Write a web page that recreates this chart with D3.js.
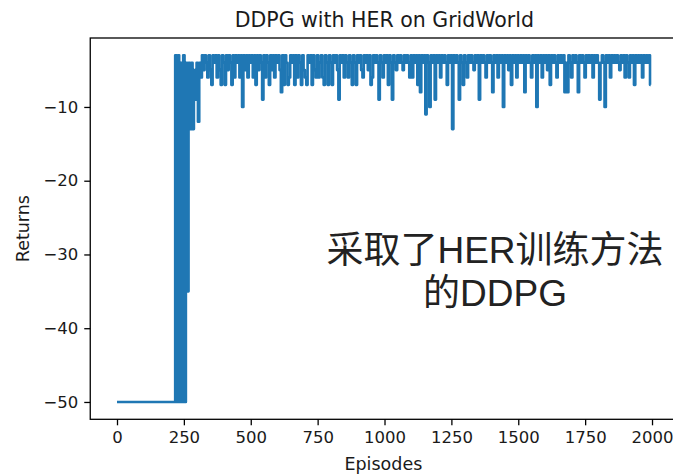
<!DOCTYPE html>
<html>
<head>
<meta charset="utf-8">
<script src="https://cdn.jsdelivr.net/npm/d3@7"></script>
<style>
  html, body { margin: 0; padding: 0; background: #fff; overflow: hidden; }
  svg { display: block; }
</style>
</head>
<body>
<svg id="chart" width="673" height="475"></svg>
<script>
// ---- data ----
const titleText = "DDPG with HER on GridWorld";
const xLabel = "Episodes";
const yLabel = "Returns";
const noteLines = ["采取了HER训练方法", "的DDPG"];
const xTicks = [0, 250, 500, 750, 1000, 1250, 1500, 1750, 2000];
const yTicks = [-50, -40, -30, -20, -10];
const episodeStep = 5; // one sample read every 5 episodes
const returns = [
  -50,-50,-50,-50,-50,-50,-50,-50,-50,-50,
  -50,-50,-50,-50,-50,-50,-50,-50,-50,-50,
  -50,-50,-50,-50,-50,-50,-50,-50,-50,-50,
  -50,-50,-50,-50,-50,-50,-50,-50,-50,-50,
  -50,-50,-50,-50,
  -3,-50,-3,-50,-4,-50,
  -3,-50,-4,-35,-4,-13,-4,-13,-5,-9,
  -4,-12,-4,-6,-3,-5,-3,-4,-6,-3,
  -5,-7,-3,-4,-3,-6,-3,-5,-7,-3,
  -4,-7,-3,-5,-3,-4,-7,-3,-6,-3,
  -4,-3,-6,-3,-10,-3,-5,-3,-6,-3,
  -4,-3,-6,-3,-7,-3,-5,-3,-4,-9,
  -3,-6,-3,-4,-7,-3,-5,-3,-6,-3,
  -4,-3,-5,-8,-3,-7,-3,-4,-7,-6,
  -3,-4,-3,-7,-3,-6,-3,-4,-7,-3,
  -5,-6,-7,-3,-4,-3,-7,-3,-5,-6,
  -3,-6,-4,-3,-6,-7,-3,-4,-7,-3,
  -4,-7,-3,-4,-3,-5,-9,-3,-4,-3,
  -6,-3,-4,-6,-3,-4,-7,-3,-4,-7,
  -3,-4,-3,-5,-6,-3,-4,-3,-5,-3,
  -7,-6,-3,-4,-3,-4,-9,-3,-4,-6,
  -3,-4,-3,-7,-3,-4,-9,-3,-4,-5,
  -3,-4,-3,-4,-5,-3,-4,-3,-4,-6,
  -3,-6,-3,-4,-3,-7,-3,-8,-3,-4,
  -3,-11,-3,-4,-10,-3,-4,-3,-9,-3,
  -4,-3,-6,-3,-4,-3,-4,-7,-3,-4,
  -3,-13,-3,-4,-3,-4,-9,-3,-4,-7,
  -3,-4,-6,-3,-4,-3,-4,-5,-3,-4,
  -3,-9,-3,-4,-3,-4,-6,-3,-4,-3,
  -4,-8,-3,-4,-3,-6,-3,-4,-3,-10,
  -3,-4,-3,-5,-3,-7,-3,-4,-3,-6,
  -3,-4,-3,-4,-3,-8,-3,-4,-3,-4,
  -6,-3,-4,-3,-10,-3,-4,-3,-6,-3,
  -4,-3,-5,-3,-7,-3,-4,-3,-4,-6,
  -3,-4,-3,-4,-3,-8,-4,-8,-3,-4,
  -6,-3,-4,-3,-4,-8,-3,-4,-3,-4,
  -6,-3,-4,-3,-4,-3,-6,-3,-4,-3,
  -4,-9,-4,-3,-4,-10,-3,-4,-3,-6,
  -3,-4,-3,-4,-3,-4,-5,-3,-4,-3,
  -6,-3,-4,-6,-3,-4,-3,-7,-3,-4,
  -3,-4,-3,-6,-3,-4,-3,-4,-3,-7
];

// ---- layout ----
const svg = d3.select("#chart");
const plot = { left: 90.25, right: 678.5, top: 38, bottom: 419.3 };
const x = d3.scaleLinear().domain([-100, 2099]).range([plot.left, plot.right]);
const y = d3.scaleLinear().domain([-52.35, -0.65]).range([plot.bottom, plot.top]);

const tickFont = "DejaVu Sans, sans-serif";
const fmt = v => String(v).replace("-", "\u2212");

// line (each read sample covers its 5-episode bin)
const line = d3.line()
  .x((d, i) => x(i * episodeStep))
  .y(d => y(d))
  .curve(d3.curveStep);

svg.append("defs").append("clipPath").attr("id", "clip")
  .append("rect")
  .attr("x", plot.left).attr("y", plot.top)
  .attr("width", plot.right - plot.left).attr("height", plot.bottom - plot.top);

svg.append("path")
  .datum(returns)
  .attr("clip-path", "url(#clip)")
  .attr("fill", "none")
  .attr("stroke", "#1f77b4")
  .attr("stroke-width", 2.6)
  .attr("stroke-linejoin", "round")
  .attr("stroke-linecap", "butt")
  .attr("d", line);

// axes
const xAxis = d3.axisBottom(x).tickValues(xTicks).tickSize(6).tickPadding(6).tickFormat(fmt);
const yAxis = d3.axisLeft(y).tickValues(yTicks).tickSize(6).tickPadding(6).tickFormat(fmt);

const gx = svg.append("g").attr("transform", `translate(0,${plot.bottom})`).call(xAxis);
const gy = svg.append("g").attr("transform", `translate(${plot.left},0)`).call(yAxis);
[gx, gy].forEach(g => {
  g.select(".domain").remove();
  g.selectAll(".tick line").attr("stroke", "#000").attr("stroke-width", 1.3);
  g.selectAll(".tick text").attr("fill", "#1a1a1a")
    .style("font-family", tickFont).style("font-size", "16.5px");
});

// frame
svg.append("rect")
  .attr("x", plot.left).attr("y", plot.top)
  .attr("width", plot.right - plot.left).attr("height", plot.bottom - plot.top)
  .attr("fill", "none").attr("stroke", "#000").attr("stroke-width", 1.3);

// title and labels
svg.append("text")
  .attr("x", (plot.left + plot.right) / 2).attr("y", 27)
  .attr("text-anchor", "middle")
  .style("font-family", tickFont).style("font-size", "20.5px").attr("fill", "#1a1a1a")
  .text(titleText);

svg.append("text")
  .attr("x", (plot.left + plot.right) / 2 - 1).attr("y", 470)
  .attr("text-anchor", "middle")
  .style("font-family", tickFont).style("font-size", "17.5px").attr("fill", "#1a1a1a")
  .text(xLabel);

svg.append("text")
  .attr("transform", `translate(29,${(plot.top + plot.bottom) / 2}) rotate(-90)`)
  .attr("text-anchor", "middle")
  .style("font-family", tickFont).style("font-size", "17.5px").attr("fill", "#1a1a1a")
  .text(yLabel);

// annotation
const note = svg.append("text")
  .attr("text-anchor", "middle")
  .style("font-family", "'Liberation Sans', 'Noto Sans CJK SC', sans-serif")
  .style("font-size", "37px").attr("fill", "#222");
noteLines.forEach((t, i) => {
  note.append("tspan").attr("x", 495).attr("y", 263 + i * 43).text(t);
});
</script>
</body>
</html>
